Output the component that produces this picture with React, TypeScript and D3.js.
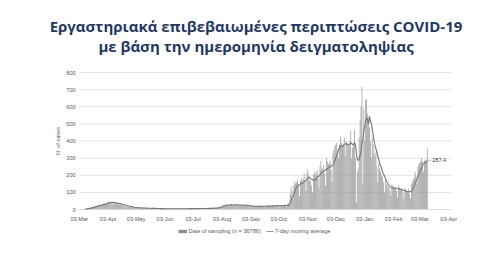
import React from "react";
import * as d3 from "d3";

const title1 = "Εργαστηριακά επιβεβαιωμένες περιπτώσεις COVID-19";
const title2 = "με βάση την ημερομηνία δειγματοληψίας";
const yAxisTitle = "N. of cases";
const barLegend = "Date of sampling (n = 36786)";
const lineLegend = "7-day moving average";

// daily cases by sampling date, starting 03-Mar-2020
const mar2020 = [0,1,1,2,2,3,4,5,6,8,9,10,12,14,16,15,18,20,22,21,25,24,28,30,26,32,35,30,38];
const apr2020 = [40,36,44,48,38,42,45,35,40,37,33,41,30,34,28,32,26,29,22,25,20,23,18,16,19,14,15,12,13,11];
const may2020 = [10,9,12,8,10,11,9,8,10,7,9,8,6,9,7,8,6,7,5,8,6,5,7,6,4,5,6,5,4,6,5];
const jun2020 = [4,5,3,4,6,5,4,3,5,4,6,3,4,5,4,3,5,4,6,4,5,3,4,5,6,4,5,4,6,5];
const jul2020 = [5,6,4,5,7,6,5,4,6,7,5,6,8,5,6,7,6,5,8,7,6,9,7,8,10,8,9,11,10,12,14];
const aug2020 = [16,20,22,25,28,24,26,30,22,27,25,29,31,24,26,28,23,27,30,25,24,28,26,22,25,27,24,21,23,26,22];
const sep2020 = [20,18,22,19,17,21,16,18,20,15,19,17,21,18,16,20,22,19,17,23,20,18,24,21,19,22,25,20,23,26];
const oct2020 = [22,25,18,12,24,27,23,26,28,20,14,30,35,42,90,135,110,60,140,165,150,160,175,140,80,170,185,165,180,210,170];
const nov2020 = [110,215,230,200,170,165,140,100,205,220,200,215,230,180,120,250,285,230,240,260,210,140,300,280,265,270,285,230,160,330];
const dec2020 = [350,370,380,390,340,300,380,425,390,370,380,420,310,400,390,380,370,400,460,300,360,380,465,300,40,220,240,420,520,600,715];
const jan2021 = [150,590,400,640,645,560,500,480,400,300,420,380,330,310,340,250,160,270,240,220,200,195,160,100,170,150,140,130,135,110,80];
const feb2021 = [150,140,130,125,135,110,70,140,130,120,115,125,95,60,125,115,110,105,120,90,65,150,165,175,185,220,195,150];
const mar2021 = [250,265,275,280,300,280,220,290,280,287,355];

const yTicks = [0, 100, 200, 300, 400, 500, 600, 700, 800];
const xTickDates = [
  "2020-03-03","2020-04-03","2020-05-03","2020-06-03","2020-07-03","2020-08-03","2020-09-03",
  "2020-10-03","2020-11-03","2020-12-03","2021-01-03","2021-02-03","2021-03-03","2021-04-03",
];
const firstDay = "2020-03-03";
const axisEnd = "2021-04-06";

const W = 500, H = 259;
const plotL = 79.3, plotR = 451.5, plotT = 72.5, plotB = 209.5;

export default function App() {
  const cases = [
    ...mar2020, ...apr2020, ...may2020, ...jun2020, ...jul2020, ...aug2020, ...sep2020,
    ...oct2020, ...nov2020, ...dec2020, ...jan2021, ...feb2021, ...mar2021,
  ];
  const parse = d3.utcParse("%Y-%m-%d");
  const start = parse(firstDay)!;
  const data = cases.map((v, i) => ({ date: d3.utcDay.offset(start, i), v }));
  const ma = data
    .map((d, i) => {
      if (i < 6) return null;
      const avg = d3.mean(data.slice(i - 6, i + 1), (e) => e.v)!;
      return { date: d.date, v: avg };
    })
    .filter((d): d is { date: Date; v: number } => d !== null);

  const x = d3.scaleUtc().domain([start, parse(axisEnd)!]).range([plotL, plotR]);
  const y = d3.scaleLinear().domain([0, 800]).range([plotB, plotT]);
  const step = x(d3.utcDay.offset(start, 1)) - x(start);
  const barW = step * 0.78;
  const line = d3.line<{ date: Date; v: number }>().x((d) => x(d.date)).y((d) => y(d.v));
  const fmt = d3.utcFormat("%d-%b");
  const last = ma[ma.length - 1];

  const small = "'Liberation Sans', Arial, sans-serif";
  const txt = "#595959";

  return (
    <svg width={W} height={H} style={{ position: "absolute", left: 0, top: 0, background: "#fff" }}>
      <rect x={0} y={0} width={W} height={H} fill="#fff" />
      <g fontFamily="'Open Sans', sans-serif" fontWeight={700} fill="#1F3864" textAnchor="middle">
        <text x={256} y={31.5} fontSize={15}>{title1}</text>
        <text x={256} y={52.2} fontSize={15}>{title2}</text>
      </g>
      {yTicks.map((t) => (
        <g key={t}>
          <line x1={plotL} x2={plotR} y1={y(t)} y2={y(t)} stroke="#D9D9D9" strokeWidth={0.7} />
          <text x={75.7} y={y(t) + 2} fontSize={5.6} fill={txt} textAnchor="end" fontFamily={small}>{t}</text>
        </g>
      ))}
      <text
        transform={`translate(59.5,${(plotT + plotB) / 2}) rotate(-90)`}
        fontSize={5.6} fill={txt} textAnchor="middle" fontFamily={small}
      >{yAxisTitle}</text>
      {data.map((d, i) => (
        <rect key={i} x={x(d.date) - barW / 2} y={y(d.v)} width={barW} height={plotB - y(d.v)} fill="#999999" />
      ))}
      <line x1={plotL} x2={plotR} y1={plotB} y2={plotB} stroke="#D9D9D9" strokeWidth={0.8} />
      <path d={line(ma)!} fill="none" stroke="#767676" strokeWidth={1.1} />
      <line x1={x(last.date) + 1.5} x2={x(last.date) + 4} y1={y(last.v)} y2={y(last.v)} stroke="#7F7F7F" strokeWidth={0.6} />
      <text x={x(last.date) + 5} y={y(last.v) + 2} fontSize={5.6} fill="#404040" fontFamily={small}>{last.v.toFixed(1)}</text>
      {xTickDates.map((s) => {
        const dt = parse(s)!;
        return (
          <text key={s} x={x(dt)} y={220.5} fontSize={5.6} fill={txt} textAnchor="middle" fontFamily={small}>{fmt(dt)}</text>
        );
      })}
      <rect x={178.5} y={229.8} width={8.5} height={3.4} fill="#8C8C8C" />
      <text x={188.5} y={233.2} fontSize={5.6} fill={txt} fontFamily={small}>{barLegend}</text>
      <line x1={266.5} x2={273.5} y1={231.5} y2={231.5} stroke="#7F7F7F" strokeWidth={0.8} />
      <text x={275} y={233.2} fontSize={5.6} fill={txt} fontFamily={small}>{lineLegend}</text>
    </svg>
  );
}
